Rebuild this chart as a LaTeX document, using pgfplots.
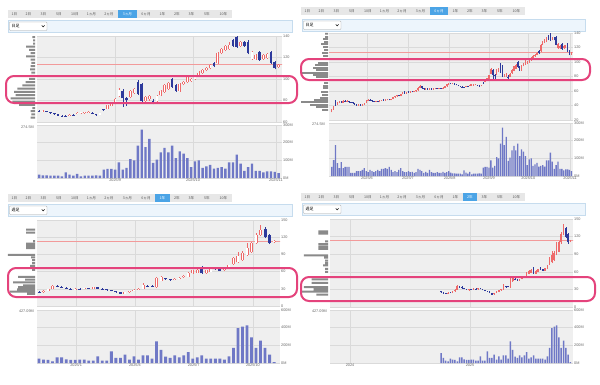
\documentclass[border=0pt]{standalone}
\usepackage{pgfplots}
\usepackage{pgfplotstable}
\pgfplotsset{compat=1.18}
\usepackage{fontspec}
\setmainfont{Liberation Sans}
\newfontfamily\jp{Noto Sans CJK JP}

\definecolor{bgc}{HTML}{EFEFEF}
\definecolor{gridc}{HTML}{DADADA}
\definecolor{tickc}{HTML}{666666}
\definecolor{upc}{HTML}{EE6A6A}
\definecolor{dnc}{HTML}{2E3A9C}
\definecolor{volc}{HTML}{6F78C6}
\definecolor{profc}{HTML}{8A8A8A}
\definecolor{pinkc}{HTML}{E4437C}
\definecolor{refc}{HTML}{F29A9A}
\definecolor{ddbg}{HTML}{EDF5FC}
\definecolor{ddline}{HTML}{C6DCEE}
\definecolor{btn}{HTML}{E7E7E7}
\definecolor{btnsel}{HTML}{4BA4E6}
\definecolor{btntext}{HTML}{555555}

% ---------------- daily candles (x = trading-day index, 0 = 2025/8/1) ----------------
\pgfplotstableread{
x o h l c
-62 31 35 30.5 34.5
-61 34.5 39 34 38
-59 41 45 40.5 44
-58 43.5 46 43 45
-56 44 47 43.5 46
-54 45 47 44.5 46
-48 40.5 42 40 41.5
-46 40.5 42 40 41.5
-45 41.5 44 41 43.5
-44 43.5 48 43 47
-43 46.5 48.5 46 48
-39 45 46.5 44.5 46
-37 45 47 44.5 46.5
-36 46.5 48 46 47.5
-34 47 48.5 46.5 48
-33 47.5 49 47 48.5
-31 47.5 49.5 47 49
-30 49 52 48.5 51.5
-29 51.5 53.5 51 53
-28 52.5 54.5 52 54
-26 53 56.5 52.5 56
-25 56 59 55.5 58.5
-23 57 59 56.5 58.5
-21 58 60 57.5 59.5
-19 58.5 60 58 59.5
-18 59.5 61.5 59 61
-17 61 65 60.5 64.5
-16 64.5 68 64 67
-13 62.5 64 62 63.5
-11 62.5 64 62 63.5
-9 62 63.5 61.5 63
-8 63 64.5 62.5 64
-6 63 64.5 62.5 64
-4 63 65 62.5 64.5
-3 64.5 67 64 66.5
-2 66.5 69.5 66 69
-1 69 71 68.5 70.5
1 69.8 70.8 69.4 70.4
8 65.6 67.2 65.3 66.8
10 67.5 69.2 67.2 68.8
11 68.0 69.3 67.7 68.9
12 68.2 69.3 67.9 68.9
13 68.5 69.9 68.2 69.5
16 66.8 68.4 66.5 68.0
18 72.5 76 72 75.5
19 75 78 74.5 77.5
20 77 82 76.5 81.5
21 84 92 83 90
24 83 90 82 89
25 87 92 86 91
28 80 84 79 83
29 81 85 80 84
31 80 85 79 84
32 85 90 84 89
33 88 95 87 94
34 91 97 90 96
37 89 96 88 95
38 95 98 94 97
39 97 103 96 102
40 98 101 97 100
41 100 103.5 99 102.5
42 103 107 102 106
43 106 109 105 108
44 108 111 107 110
45 110 114 109 113
47 115 125 114 124
48 124 129 123 128
49 127 132 126 131
50 128 134 127 132
53 131 135 130 134
56 119 126 118 125
57 119 123 118 122
59 119 123 118 122
60 120 124 119 123
63 111 114 110 113
}\dUp
\pgfplotstableread{
x o h l c
-60 46 47 40 41
-57 45.5 46 43.5 44
-55 46 47 44.5 45
-53 46 46.5 44 44.5
-52 45 45.5 43.5 44
-51 44.5 45 42.5 43
-50 43 43.5 41 41.5
-49 41.5 42 40 40.5
-47 41.5 42 40 40.5
-42 48 48.5 46.5 47
-41 47 47.5 45.5 46
-40 46 46.5 44.5 45
-38 46 46.5 44.5 45
-35 48 48.5 46.5 47
-32 48.5 49 47 47.5
-27 54 54.5 52.5 53
-24 59 59.5 56.5 57
-22 59 59.5 57.5 58
-20 59.5 60 58 58.5
-15 66.5 67 63 63.5
-14 64 64.5 62 62.5
-12 63.5 64 62 62.5
-10 63.5 64 61.5 62
-7 64 64.5 62.5 63
-5 64 64.5 62.5 63
0 70.6 71.0 69.5 69.8
2 70.2 70.6 69.0 69.4
3 69.2 69.6 67.9 68.2
4 68.2 68.6 66.7 67.0
5 67.0 67.4 65.7 66.0
6 66.0 66.4 65.0 65.3
7 65.8 66.2 64.9 65.2
9 66.6 67.0 65.7 66.0
14 68.5 68.9 67.3 67.6
15 67.2 67.6 66.0 66.3
17 72.0 72.5 70.2 70.8
22 89 91 74 82
23 82 83 75 80.5
26 97 99 85 86
27 95 96 79 80
30 80 81.5 76.5 77.5
35 100 101 92 93
36 94 95 88 89
46 115 116 111 112
51 136 137 130 131
52 139 141 129 130
54 134 135 130 131
55 134 136 123 124
58 125 126 117 118
61 125 126 114 115
62 116 117 109 110
}\dDn
\pgfplotstableread{
x v
-62 51
-61 90
-60 175
-59 73
-58 45
-57 79
-56 45
-55 51
-54 51
-53 51
-52 17
-51 17
-50 17
-49 28
-48 28
-47 28
-46 34
-45 45
-44 28
-43 22
-42 34
-41 28
-40 22
-39 28
-38 34
-37 28
-36 40
-35 40
-34 45
-33 40
-32 51
-31 34
-30 22
-29 28
-28 22
-27 34
-26 45
-25 28
-24 22
-23 22
-22 28
-21 22
-20 23
-19 17
-18 22
-17 40
-16 34
-15 28
-14 17
-13 23
-12 17
-11 34
-10 22
-9 17
-8 17
-7 22
-6 17
-5 17
-4 23
-3 17
-2 22
-1 28
0 19
1 15
2 15
3 13
4 13
5 13
6 9
7 32
8 19
9 13
10 24
11 9
12 13
13 13
14 13
15 15
16 13
17 47
18 51
19 51
20 47
21 89
22 47
23 57
24 107
25 100
26 183
27 274.5
28 175
29 222
30 85
31 104
32 145
33 170
34 145
35 183
36 113
37 151
38 138
39 113
40 62
41 94
42 100
43 57
44 66
45 75
46 53
47 57
48 62
49 53
50 89
51 89
52 132
53 81
54 41
55 62
56 81
57 41
58 41
59 32
60 38
61 38
62 34
63 28
}\dVol

% ---------------- weekly candles ----------------
\pgfplotstableread{
x o h l c
-1 22.5 25 22 24.5
1 24 27.5 23.5 27
2 26.5 30 26 29.5
3 29.5 37 29 35.5
8 28.5 31 28 30.5
10 29.5 32 29 31.5
12 30 33 29.5 32.5
19 21.5 24.5 21 24
20 24 26.5 23.5 26
21 26 29 25.5 28.5
22 28.5 31 28 30.5
23 30 40 29.5 36
26 34 51 32 49
27 44 52 43 50
30 45 48 44.5 47.5
31 47.5 50 47 49.5
32 50 53.5 49.5 53
33 51 59 50.5 58
34 57 63 56 62
35 58 64 57.5 63
37 57 63 56.5 62
38 60 65 59.5 64
41 62 67 61.5 66
42 65 72 64.5 71
43 73 86 72 83
44 76 95 75 88
45 80 96 79 92
46 89 110 88 101
47 94 112 93 110
48 110 128 108 124
49 124 141 122 133
52 111 115 110 113.5
}\wUp
\pgfplotstableread{
x o h l c
-4 27 28 24.5 25
-3 25 25.5 23 23.5
-2 23.5 24 22.5 23
0 25 26 23.5 24
4 35.5 36.5 33 34
5 34 35 31.5 32
6 32 33 30 30.5
7 30.5 31.5 29 29.5
9 30.5 31 29 29.5
11 31.5 32 29.5 30
13 32.5 33 30 30.5
14 30.5 31 28.5 29
15 29 29.5 27 27.5
16 27.5 28 25.5 26
17 26 26.5 23.5 24
18 24 24.5 20.5 21
24 35 36 33 33.5
25 35 36 33.5 34
28 48 49 45.5 46.5
29 46.5 47.5 44 45
36 68 69 56 57
39 67 68 63 64
40 64 65 61 61.5
50 134 137 118 120
51 124 126 108 110
}\wDn
\pgfplotstableread{
x v
-4 113
-3 57
-2 26
-1 19
0 49
1 37
2 34
3 19
4 64
5 64
6 42
7 34
8 34
9 38
10 38
11 26
12 26
13 76
14 26
15 26
16 132
17 57
18 57
19 94
20 37
21 76
22 37
23 87
24 87
25 49
26 245
27 150
28 71
29 57
30 87
31 64
32 87
33 124
34 49
35 64
36 87
37 49
38 49
39 49
40 49
41 37
42 76
43 170
44 395
45 412
46 427.09
47 290
48 170
49 252
50 170
51 94
52 11
}\wVol

% ---------------- volume-by-price profiles ----------------
\pgfplotstableread{
p len
139 2.7
136 2
133 2
130 9
127 6
124 4.3
121 9
118 4.3
115 3.7
112 4.3
109 5
106 3.7
103 4.3
100 6
97 9.3
94 12.7
91 17.7
88 21
85 19.3
82 24.3
79 22.7
76 16
73 2.7
70 4.3
67 3.7
64 4.3
}\pA
\pgfplotstableread{
p len
139 3
134.5 3
131.7 5
127.6 4
124.8 7
120.7 5
116.6 4
112.4 6
108.3 5
104 3
98.6 10
95.9 13
91.7 15
89 12
84.8 27
82 15
79.3 12
75.2 3
71 4
66.9 5
64.1 5
58.6 7
54.5 6
50.3 8
47.6 14
44.8 27
40.7 18
37.9 12
33.8 6
}\pB
\pgfplotstableread{
p len
133 9
128 9
113 2
109 9
105 9
101 9
89 27
85 4
80 3
75 3
70 5
63 3
51 17
46 10
41 22
36 12
33 17
29 18
25 25
21 8
}\pC
\pgfplotstableread{
p len
129 10
125 10
112 3
107 10
103 10
99 10
88 25
84 4
79 3
75 3
71 5
65 3
60 3
47 17
41 17
34 25
30 15
26 27
21 12
}\pD

\pgfplotsset{
  panel/.style={scale only axis, anchor=north west, clip=true,
    axis line style={draw=none}, tick style={draw=none}, major tick length=0pt,
    axis background/.style={fill=bgc},
    xmajorgrids, ymajorgrids, grid style={draw=gridc, line width=0.4pt},
    ticklabel style={font=\fontsize{3.8}{4.5}\selectfont, text=tickc, inner sep=1pt},
    yticklabel pos=right},
  prof/.style={scale only axis, anchor=north west, hide axis, xmin=0, xmax=27, x dir=reverse},
  eb/.style={draw=none, mark=none, forget plot, error bars/.cd, y dir=plus, y explicit, error mark=none}
}

\newcommand{\wicks}[2]{%
 \addplot[eb, error bar style={draw=upc, line width=0.45pt}] table[x=x, y=l, y error plus expr=\thisrow{h}-\thisrow{l}] {#1};
 \addplot[eb, error bar style={draw=dnc, line width=0.45pt}] table[x=x, y=l, y error plus expr=\thisrow{h}-\thisrow{l}] {#2};
}
\newcommand{\bodies}[3]{%
 \addplot[eb, error bar style={draw=upc, line width=#3}] table[x=x, y=o, y error plus expr=\thisrow{c}-\thisrow{o}] {#1};
 \addplot[eb, error bar style={draw=dnc, line width=#3}] table[x=x, y=c, y error plus expr=\thisrow{o}-\thisrow{c}] {#2};
}
\newcommand{\hollow}[2]{%
 \addplot[eb, error bar style={draw=white, line width=#2}] table[x=x, y=o, y error plus expr=\thisrow{c}-\thisrow{o}] {#1};
}

\newcommand{\buttonbar}[3]{%
 \foreach \lab/\a/\b [count=\k] in {1日/0/13, 2日/13/28, 3日/28/43, 5日/43/59, 10日/59/75, 1ヵ月/75/92, 2ヵ月/92/110, 3ヵ月/110/129, 6ヵ月/129/147, 1年/147/162, 2年/162/176, 3年/176/191, 5年/191/207, 10年/207/224}{
   \ifnum\k=#3 \def\bfc{btnsel}\def\tfc{white}\else\def\bfc{btn}\def\tfc{btntext}\fi
   \fill[\bfc] ({#1+\a+0.4},{#2}) rectangle ({#1+\b-0.4},{#2-8});
   \node[text=\tfc, font=\jp\fontsize{3.6}{4}\selectfont, inner sep=0] at ({#1+(\a+\b)/2},{#2-4}) {\lab};
 }
}
\newcommand{\dropdown}[4]{%
 \filldraw[fill=ddbg, draw=ddline, line width=0.4pt] (#1,#3) rectangle (#2,{#3-12.5});
 \filldraw[fill=white, draw=gray!70, line width=0.4pt, rounded corners=0.8pt] ({#1+1.5},{#3-2}) rectangle ({#1+39},{#3-10.5});
 \node[anchor=west, font=\jp\fontsize{4}{4.5}\selectfont, inner sep=0] at ({#1+3.5},{#3-6.2}) {#4};
 \draw[line width=0.5pt] ({#1+33.8},{#3-5.4}) -- ({#1+35.2},{#3-6.9}) -- ({#1+36.6},{#3-5.4});
}

\begin{document}
\begin{tikzpicture}[x=1pt,y=1pt]
\fill[white] (0,0) rectangle (600,384);
\useasboundingbox (0,0) rectangle (600,384);

% ===== headers =====
\buttonbar{8}{374}{8}
\buttonbar{301}{377}{9}
\buttonbar{8}{190}{10}
\buttonbar{301}{191}{11}
\dropdown{8}{292}{364}{日足}
\dropdown{302}{585}{365}{日足}
\dropdown{8}{292}{180}{週足}
\dropdown{302}{585}{181}{週足}

% ================= Panel 1: 3 months daily =================
\begin{axis}[prof, at={(8pt,348pt)}, width=27pt, height=86pt, ymin=60, ymax=140]
 \addplot[xbar, bar width=2pt, bar shift=0pt, fill=profc, draw=none] table[x=len,y=p]{\pA};
\end{axis}
\begin{axis}[panel, at={(37pt,348pt)}, width=245pt, height=86pt,
  xmin=-0.55, xmax=63.9, ymin=60, ymax=140,
  xtick={20,40.5,62.3}, xticklabels={,,},
  ytick={60,80,100,120,140}, yticklabels={60,80,100,120,140}]
 \addplot[refc, line width=0.5pt, forget plot] coordinates {(-70,113.5) (70,113.5)};
 \wicks{\dUp}{\dDn}
 \bodies{\dUp}{\dDn}{2.6pt}
 \hollow{\dUp}{1.2pt}
\end{axis}
\begin{axis}[panel, at={(37pt,259pt)}, width=245pt, height=53pt,
  xmin=-0.55, xmax=63.9, ymin=0, ymax=300,
  xtick={20,40.5,62.3}, xticklabels={2025/9,2025/10,2025/11},
  ytick={0,100,200,300}, yticklabels={0M,100M,200M,300M}]
 \addplot[ybar, bar width=2.4pt, bar shift=0pt, fill=volc, draw=none] table[x=x,y=v]{\dVol};
\end{axis}
\node[anchor=east, font=\fontsize{3.8}{4.5}\selectfont, text=tickc, inner sep=0] at (34,257) {274.5M};

% ================= Panel 2: 6 months daily =================
\begin{axis}[prof, at={(301pt,351pt)}, width=27pt, height=87pt, ymin=20, ymax=140]
 \addplot[xbar, bar width=1.8pt, bar shift=0pt, fill=profc, draw=none] table[x=len,y=p]{\pB};
\end{axis}
\begin{axis}[panel, at={(329pt,351pt)}, width=244pt, height=87pt,
  xmin=-63.4, xmax=63.8, ymin=20, ymax=140,
  xtick={-43.6,-22.2,-0.5,20,40.5,62.3}, xticklabels={,,,,,},
  ytick={20,40,60,80,100,120,140}, yticklabels={20,40,60,80,100,120,140}]
 \addplot[refc, line width=0.5pt, forget plot] coordinates {(-70,113.5) (70,113.5)};
 \wicks{\dUp}{\dDn}
 \bodies{\dUp}{\dDn}{1.4pt}
\end{axis}
\begin{axis}[panel, at={(329pt,261pt)}, width=244pt, height=53pt,
  xmin=-63.4, xmax=63.8, ymin=0, ymax=300,
  xtick={-43.6,-22.2,-0.5,20,40.5,62.3}, xticklabels={2025/6,2025/7,2025/8,2025/9,2025/10,2025/11},
  ytick={0,100,200,300}, yticklabels={0M,100M,200M,300M}]
 \addplot[ybar, bar width=1.3pt, bar shift=0pt, fill=volc, draw=none] table[x=x,y=v]{\dVol};
\end{axis}
\node[anchor=east, font=\fontsize{3.8}{4.5}\selectfont, text=tickc, inner sep=0] at (325,260) {274.5M};

% ================= Panel 3: 1 year weekly =================
\begin{axis}[prof, at={(8pt,164pt)}, width=27pt, height=86pt, ymin=0, ymax=150]
 \addplot[xbar, bar width=2pt, bar shift=0pt, fill=profc, draw=none] table[x=len,y=p]{\pC};
\end{axis}
\begin{axis}[panel, at={(37pt,164pt)}, width=243pt, height=86pt,
  xmin=-0.45, xmax=53.3, ymin=0, ymax=150,
  xtick={8.2,21.2,34.2,47.3}, xticklabels={,,,},
  ytick={0,30,60,90,120,150}, yticklabels={0,30,60,90,120,150}]
 \addplot[refc, line width=0.5pt, forget plot] coordinates {(-70,113.5) (70,113.5)};
 \wicks{\wUp}{\wDn}
 \bodies{\wUp}{\wDn}{3pt}
 \hollow{\wUp}{1.5pt}
\end{axis}
\begin{axis}[panel, at={(37pt,74pt)}, width=243pt, height=53pt,
  xmin=-0.45, xmax=53.3, ymin=0, ymax=600,
  xtick={8.2,21.2,34.2,47.3}, xticklabels={2025/1,2025/4,2025/7,2025/10},
  ytick={0,200,400,600}, yticklabels={0M,200M,400M,600M}]
 \addplot[ybar, bar width=2.8pt, bar shift=0pt, fill=volc, draw=none] table[x=x,y=v]{\wVol};
\end{axis}
\node[anchor=east, font=\fontsize{3.8}{4.5}\selectfont, text=tickc, inner sep=0] at (34,73) {427.09M};

% ================= Panel 4: 2 years weekly =================
\begin{axis}[prof, at={(302pt,165pt)}, width=26pt, height=88pt, ymin=0, ymax=150]
 \addplot[xbar, bar width=2pt, bar shift=0pt, fill=profc, draw=none] table[x=len,y=p]{\pD};
\end{axis}
\begin{axis}[panel, at={(330pt,165pt)}, width=243pt, height=88pt,
  xmin=-52.1, xmax=53.1, ymin=0, ymax=150,
  xtick={-43.4,8.5}, xticklabels={,},
  ytick={0,30,60,90,120,150}, yticklabels={0,30,60,90,120,150}]
 \addplot[refc, line width=0.5pt, forget plot] coordinates {(-70,113.5) (70,113.5)};
 \wicks{\wUp}{\wDn}
 \bodies{\wUp}{\wDn}{1.6pt}
\end{axis}
\begin{axis}[panel, at={(330pt,74pt)}, width=243pt, height=53pt,
  xmin=-52.1, xmax=53.1, ymin=0, ymax=600,
  xtick={-43.4,8.5}, xticklabels={2024,2025},
  ytick={0,200,400,600}, yticklabels={0M,200M,400M,600M}]
 \addplot[ybar, bar width=1.5pt, bar shift=0pt, fill=volc, draw=none] table[x=x,y=v]{\wVol};
\end{axis}
\node[anchor=east, font=\fontsize{3.8}{4.5}\selectfont, text=tickc, inner sep=0] at (327,73) {427.09M};

% ===== highlight boxes =====
\draw[pinkc, line width=2pt, rounded corners=8pt] (6,308) rectangle (297,281);
\draw[pinkc, line width=2pt, rounded corners=8pt] (301,325) rectangle (590,304);
\draw[pinkc, line width=2pt, rounded corners=8pt] (8,116) rectangle (297,87);
\draw[pinkc, line width=2pt, rounded corners=8pt] (301,107) rectangle (595,83);
\end{tikzpicture}
\end{document}
